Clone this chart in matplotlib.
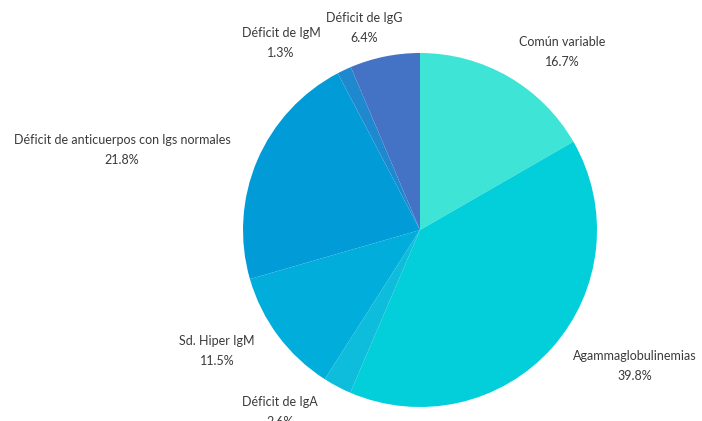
import matplotlib.pyplot as plt

categories = ["Común variable", "Agammaglobulinemias", "Déficit de IgA",
              "Sd. Hiper IgM", "Déficit de anticuerpos con lgs normales",
              "Déficit de IgM", "Déficit de IgG"]
values = [16.7, 39.8, 2.6, 11.5, 21.8, 1.3, 6.4]
colors = ["#3ee4d5", "#03cfda", "#0dbddb", "#01aedb", "#019cd7", "#1f89d0", "#4472c4"]

# label centres in pixel space of the figure (x, y from top)
label_px = [(562, 52), (635, 366), (280, 412), (217, 351),
            (122, 150), (281, 43), (364, 28)]

W, H = 702, 421
cx, cy, r = 420, 230, 177

plt.rcParams['font.family'] = ['Lato', 'DejaVu Sans']
fig = plt.figure(figsize=(W / 100, H / 100), dpi=100)
ax = fig.add_axes([(cx - r) / W, (H - cy - r) / H, 2 * r / W, 2 * r / H])

ax.pie(values, colors=colors, startangle=90, counterclock=False,
       wedgeprops=dict(linewidth=0))
ax.set_xlim(-1, 1)
ax.set_ylim(-1, 1)
ax.set_aspect('equal')
ax.axis('off')

for name, val, (px, py) in zip(categories, values, label_px):
    ax.text((px - cx) / r, (cy - py) / r, f"{name}\n{val}%", ha='center', va='center',
            fontsize=9, color='#3a3a3a', linespacing=1.75, clip_on=False)

fig.savefig("out.png", dpi=100, facecolor='white')
